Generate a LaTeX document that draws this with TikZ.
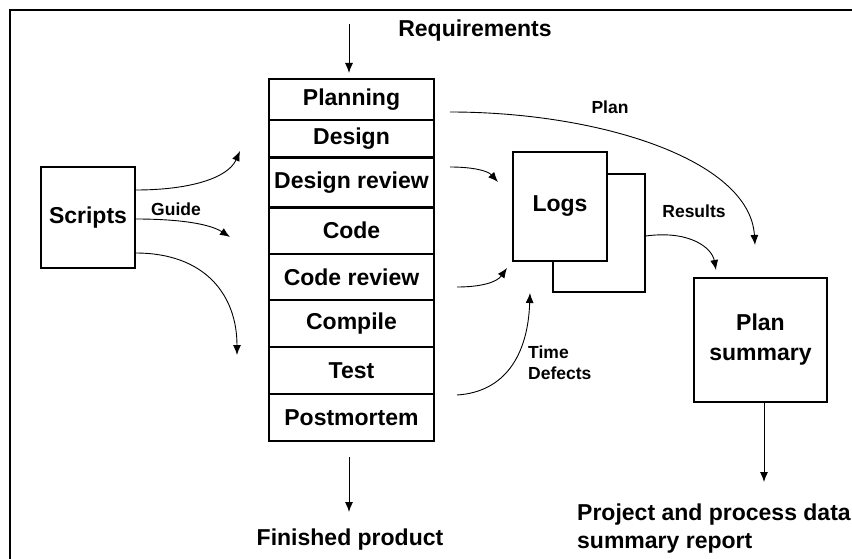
\documentclass[tikz,border=0pt]{standalone}
\usepackage{fontspec}
\setmainfont{Liberation Sans}
\usetikzlibrary{arrows.meta}
\newcommand{\labbig}{\fontsize{23}{28}\selectfont\bfseries}
\newcommand{\labsmall}{\fontsize{17.5}{21}\selectfont\bfseries}

\begin{document}
\begin{tikzpicture}[x=1pt,y=-1pt]
\tikzset{>={Latex[length=10pt,width=8pt]}}
\tikzset{stage/.style={draw,line width=1.2pt,minimum width=165pt,inner sep=0pt,font=\labbig},
  box/.style={draw,line width=1.2pt,inner sep=0pt,fill=white,font=\labbig},
  flow/.style={->,line width=0.9pt},
  lbl/.style={font=\labsmall,inner sep=0pt}}

\useasboundingbox (0,0) rectangle (852,559);
\draw[line width=1.5pt] (10,559) -- (10,10) -- (852,10);

% process stack
\foreach \name/\txt/\t/\b in {plan/Planning/79/120,design/Design/120/158,
  dreview/Design review/158/207,code/Code/207/254,creview/Code review/254/300,
  compile/Compile/300/347,test/Test/347/394,post/Postmortem/394/441}
  \node[stage,minimum height={(\b-\t)*1pt}] (\name) at (351.5,{(\t+\b)/2}) {\txt};
\draw[line width=2.4pt] (dreview.north west) -- (dreview.north east);
\draw[line width=2.4pt] (dreview.south west) -- (dreview.south east);

\node[font=\labbig] (req) at (475,31) {Requirements};
\coordinate (reqin) at (349,24);
\draw[flow] (reqin) -- (349,73);

\node[font=\labbig] (fin) at (350,540) {Finished product};
\coordinate (finin) at (349,457);
\draw[flow] (finin) -- (349,512);

% scripts
\node[box,minimum width=94pt,minimum height=101pt] (scripts) at (88,217.5) {Scripts};
\node[lbl] (guide) at (176,209) {Guide};
\draw[flow] ([yshift=27.5pt]scripts.east) .. controls (190,190) and (228,178) .. (240,151);
\draw[flow] ([yshift=-1.5pt]scripts.east) .. controls (180,219) and (210,224) .. (230,237);
\draw[flow] ([yshift=-35.5pt]scripts.east) .. controls (205,253) and (237,295) .. (237,355);

% logs
\node[box,minimum width=92pt,minimum height=118pt] (logsback) at (599,233) {};
\node[box,minimum width=94pt,minimum height=109pt] (logs) at (560,206.5) {Logs};
\draw[flow] (450,167) .. controls (470,167) and (487,170) .. (498,182);
\draw[flow] (457,287) .. controls (482,287) and (497,282) .. (507,268);
\draw[flow] (457,395) .. controls (505,392) and (528,355) .. (530,293);
\node[lbl,anchor=west,align=left] (timedef) at (528,362.5) {Time\\Defects};

% plan summary
\node[box,minimum width=133pt,minimum height=124pt,align=center] (psum) at (760.5,340)
  {Plan\\[2pt]summary};
\draw[flow] (450,112) .. controls (600,112) and (750,160) .. (755,245);
\node[lbl] (planlbl) at (610,107) {Plan};
\draw[flow] ([yshift=-3pt]logsback.east) .. controls (690,230) and (712,248) .. (716,270);
\node[lbl] (results) at (694,211) {Results};

\coordinate (psout) at (764,402);
\draw[flow] (psout) -- (764,482);
\node[font=\labbig,anchor=west,align=left,inner sep=0pt] (report) at (577,528.5) {Project and process data\\summary report};
\end{tikzpicture}
\end{document}
